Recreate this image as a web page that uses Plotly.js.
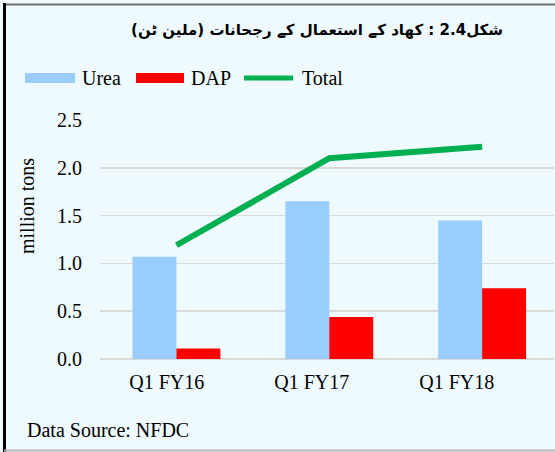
<!DOCTYPE html>
<html>
<head>
<meta charset="utf-8">
<script src="https://cdn.plot.ly/plotly-3.0.1.min.js"></script>
<style>html,body{margin:0;padding:0;background:#EFFAFF;}#chart{width:555px;height:452px;}</style>
</head>
<body>
<div id="chart"></div>
<script>
// ---- data ----
const categories = ["Q1 FY16", "Q1 FY17", "Q1 FY18"];
const ureaValues = [1.07, 1.65, 1.45];
const dapValues  = [0.11, 0.44, 0.74];
const totalValues = [1.19, 2.10, 2.22];
const seriesNames = ["Urea", "DAP", "Total"];
const seriesColors = ["#99CCFF", "#FF0000", "#00B050"];
const yTickVals = [0, 0.5, 1.0, 1.5, 2.0, 2.5];
const yTickText = ["0.0", "0.5", "1.0", "1.5", "2.0", "2.5"];
const titleText = "\u200Fشکل2.4 : کھاد کے استعمال کے رجحانات (ملین ٹن)\u200F";
const yTitle = "million tons";
const sourceText = "Data Source: NFDC";

// ---- geometry helpers ----
const W = 555, H = 452;
const M = {l: 100, r: 1, t: 120, b: 93};
const PW = W - M.l - M.r, PH = H - M.t - M.b;
const px2x = p => (p - M.l) / PW;
const px2y = p => (H - M.b - p) / PH;

const serif = "Liberation Serif, Times New Roman, serif";
const FS = 20;
const idx = categories.map((c, i) => i);

const traces = [
  {type: "bar", name: seriesNames[0], x: idx, y: ureaValues,
   marker: {color: seriesColors[0]}, hoverinfo: "y"},
  {type: "bar", name: seriesNames[1], x: idx, y: dapValues,
   marker: {color: seriesColors[1]}, hoverinfo: "y"},
  {type: "scatter", mode: "lines", name: seriesNames[2], x: idx, y: totalValues,
   line: {color: seriesColors[2], width: 6}, hoverinfo: "y"},
  {type: "scatter", mode: "markers", x: idx, y: idx.map(() => null), xaxis: "x2",
   showlegend: false, hoverinfo: "skip"}
];

// custom legend (wide swatches like the original)
const legendItems = [
  {kind: "rect", x0: 25, x1: 75, tx: 80},
  {kind: "rect", x0: 136, x1: 184, tx: 189},
  {kind: "line", x0: 244, x1: 293, tx: 300}
];
const legY = 78;
const legShapes = legendItems.map((it, i) => it.kind === "rect"
  ? {type: "rect", xref: "paper", yref: "paper", x0: px2x(it.x0), x1: px2x(it.x1),
     y0: px2y(legY - 5), y1: px2y(legY + 5), fillcolor: seriesColors[i], line: {width: 0}}
  : {type: "line", xref: "paper", yref: "paper", x0: px2x(it.x0), x1: px2x(it.x1),
     y0: px2y(legY), y1: px2y(legY), line: {color: seriesColors[i], width: 5}});
const legAnns = legendItems.map((it, i) => ({
  text: seriesNames[i], xref: "paper", yref: "paper", x: px2x(it.tx), y: px2y(legY),
  xanchor: "left", yanchor: "middle", showarrow: false,
  font: {family: serif, size: FS, color: "#000"}}));

const layout = {
  width: W, height: H,
  margin: M,
  paper_bgcolor: "#EFFAFF",
  plot_bgcolor: "#EFFAFF",
  font: {family: serif, size: FS, color: "#000"},
  barmode: "group",
  bargap: 0.425,
  bargroupgap: 0,
  showlegend: false,
  title: {
    text: titleText,
    font: {family: "DejaVu Sans", size: 15, color: "#000", weight: "bold"},
    xref: "container", yref: "container",
    x: 503 / W, xanchor: "right",
    y: 1 - 30 / H, yanchor: "middle"
  },
  xaxis: {
    type: "linear",
    range: [-0.5, 2.47],
    showticklabels: false, showgrid: false, zeroline: false, showline: false,
    fixedrange: true
  },
  xaxis2: {
    type: "linear",
    overlaying: "x", anchor: "y", side: "bottom",
    range: [(M.l - 166.7) / 145, (W - M.r - 166.7) / 145],
    tickmode: "array", tickvals: idx, ticktext: categories,
    ticks: "", ticklabelstandoff: 9,
    showgrid: false, zeroline: false, showline: false,
    tickfont: {family: serif, size: FS, color: "#000"},
    fixedrange: true
  },
  yaxis: {
    range: [0, 2.5],
    tickmode: "array", tickvals: yTickVals, ticktext: yTickText,
    showgrid: true, gridcolor: "#D9D9D9", gridwidth: 1.5,
    zeroline: true, zerolinecolor: "#D9D9D9", zerolinewidth: 1.5,
    showline: false, ticks: "", ticklabelstandoff: 17,
    tickfont: {family: serif, size: FS, color: "#000"},
    fixedrange: true
  },
  annotations: [
    {text: yTitle, textangle: -90, xref: "paper", yref: "paper",
     x: px2x(27), y: px2y(206), xanchor: "center", yanchor: "middle",
     showarrow: false, font: {family: serif, size: FS, color: "#000"}},
    {text: sourceText, xref: "paper", yref: "paper",
     x: px2x(25), y: px2y(430), xanchor: "left", yanchor: "middle",
     showarrow: false, font: {family: serif, size: FS, color: "#000"}}
  ].concat(legAnns),
  shapes: [
    {type: "line", xref: "paper", yref: "paper", x0: px2x(3), x1: px2x(W), y0: px2y(4.5), y1: px2y(4.5),
     line: {color: "#6E6E6E", width: 2}},
    {type: "line", xref: "paper", yref: "paper", x0: px2x(4.5), x1: px2x(4.5), y0: px2y(3), y1: px2y(H),
     line: {color: "#000000", width: 3}},
    {type: "line", xref: "paper", yref: "paper", x0: px2x(4), x1: px2x(W), y0: px2y(450.5), y1: px2y(450.5),
     line: {color: "#B8B8B8", width: 2}}
  ].concat(legShapes)
};

Plotly.newPlot("chart", traces, layout, {displayModeBar: false, staticPlot: true});
</script>
</body>
</html>
